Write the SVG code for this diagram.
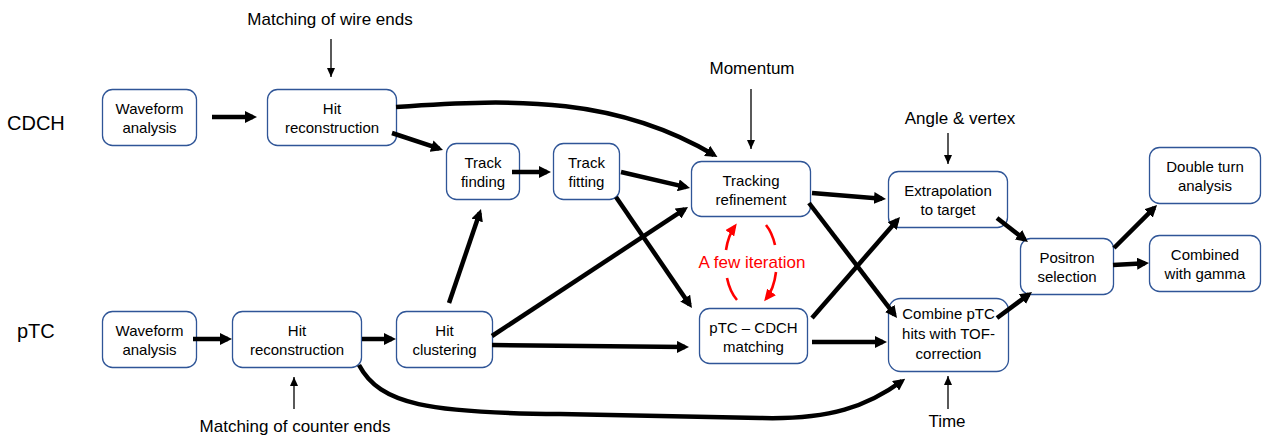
<svg xmlns="http://www.w3.org/2000/svg" width="1262" height="438" viewBox="0 0 1262 438">
<style>
.box{fill:#fff;stroke:#2F5597;stroke-width:1.3}
.nt{font-family:"Liberation Sans",Arial,sans-serif;font-size:15px;fill:#000;text-anchor:middle}
.lbl{font-family:"Liberation Sans",Arial,sans-serif;font-size:17px;fill:#000;text-anchor:middle}
.side{font-family:"Liberation Sans",Arial,sans-serif;font-size:20px;fill:#000}
.thick{fill:none;stroke:#000;stroke-width:4.5;marker-end:url(#ah)}
.thin{fill:none;stroke:#000;stroke-width:1.3;marker-end:url(#ahs)}
.red{fill:none;stroke:#FF0000;stroke-width:2.6}
.redtxt{font-family:"Liberation Sans",Arial,sans-serif;font-size:17px;fill:#FF0000;text-anchor:middle}
</style>
<defs>
<marker id="ah" markerUnits="userSpaceOnUse" markerWidth="12" markerHeight="12" refX="8" refY="6" orient="auto"><path d="M0,0 L12,6 L0,12 z" fill="#000"/></marker>
<marker id="ahs" markerUnits="userSpaceOnUse" markerWidth="9" markerHeight="8" refX="9" refY="4" orient="auto"><path d="M0,0 L9,4 L0,8 z" fill="#000"/></marker>
<marker id="ahr" markerUnits="userSpaceOnUse" markerWidth="12" markerHeight="11" refX="9" refY="5.5" orient="auto"><path d="M0,0 L12,5.5 L0,11 z" fill="#FF0000"/></marker>
</defs>
<rect width="1262" height="438" fill="#fff"/>

<g id="labels">
<text class="side" x="7" y="130">CDCH</text>
<text class="side" x="17" y="338">pTC</text>
<text class="lbl" x="330" y="25">Matching of wire ends</text>
<text class="lbl" x="752" y="74">Momentum</text>
<text class="lbl" x="960" y="124">Angle &amp; vertex</text>
<text class="lbl" x="295" y="432">Matching of counter ends</text>
<text class="lbl" x="947" y="427">Time</text>
</g>

<g id="n_cdch_wave"><rect class="box" x="102.5" y="89.5" width="94" height="56" rx="10"/><text class="nt" x="149.5" y="114">Waveform</text><text class="nt" x="149.5" y="133">analysis</text></g>
<g id="n_cdch_hit"><rect class="box" x="267.5" y="89.5" width="129" height="56" rx="10"/><text class="nt" x="332" y="114">Hit</text><text class="nt" x="332" y="133">reconstruction</text></g>
<g id="n_track_finding"><rect class="box" x="446.5" y="143.5" width="73" height="56" rx="10"/><text class="nt" x="483" y="168">Track</text><text class="nt" x="483" y="187">finding</text></g>
<g id="n_track_fitting"><rect class="box" x="553.5" y="143.5" width="66" height="56" rx="10"/><text class="nt" x="586.5" y="168">Track</text><text class="nt" x="586.5" y="187">fitting</text></g>
<g id="n_tracking_refinement"><rect class="box" x="691.5" y="161.5" width="119" height="55" rx="10"/><text class="nt" x="751" y="186">Tracking</text><text class="nt" x="751" y="205">refinement</text></g>
<g id="n_extrapolation"><rect class="box" x="888.5" y="171.5" width="119" height="56" rx="10"/><text class="nt" x="948" y="196">Extrapolation</text><text class="nt" x="948" y="215">to target</text></g>
<g id="n_positron"><rect class="box" x="1020.5" y="238.5" width="93" height="56" rx="10"/><text class="nt" x="1067" y="263">Positron</text><text class="nt" x="1067" y="282">selection</text></g>
<g id="n_double_turn"><rect class="box" x="1149.5" y="147.5" width="111" height="56" rx="10"/><text class="nt" x="1205" y="172">Double turn</text><text class="nt" x="1205" y="191">analysis</text></g>
<g id="n_combined_gamma"><rect class="box" x="1149.5" y="235.5" width="111" height="56" rx="10"/><text class="nt" x="1205" y="260">Combined</text><text class="nt" x="1205" y="279">with gamma</text></g>
<g id="n_ptc_wave"><rect class="box" x="102.5" y="311.5" width="94" height="56" rx="10"/><text class="nt" x="149.5" y="336">Waveform</text><text class="nt" x="149.5" y="355">analysis</text></g>
<g id="n_ptc_hit"><rect class="box" x="232.5" y="311.5" width="129" height="56" rx="10"/><text class="nt" x="297" y="336">Hit</text><text class="nt" x="297" y="355">reconstruction</text></g>
<g id="n_hit_clustering"><rect class="box" x="396.5" y="311.5" width="96" height="56" rx="10"/><text class="nt" x="444.5" y="336">Hit</text><text class="nt" x="444.5" y="355">clustering</text></g>
<g id="n_ptc_cdch"><rect class="box" x="699.5" y="308.5" width="108" height="55" rx="10"/><text class="nt" x="753.5" y="333">pTC – CDCH</text><text class="nt" x="753.5" y="352">matching</text></g>
<g id="n_combine"><rect class="box" x="888.5" y="298.5" width="120" height="73" rx="12"/><text class="nt" x="948.5" y="319">Combine pTC</text><text class="nt" x="948.5" y="339">hits with TOF-</text><text class="nt" x="948.5" y="359">correction</text></g>

<g id="connectors">
<path class="thick" d="M212,117 L253,117"/>
<path class="thick" d="M392,133 L439.2,148.7"/>
<path class="thick" d="M396,107 C520,98 618,98 714,155"/>
<path class="thick" d="M512,172 L547,172"/>
<path class="thick" d="M621,172 L686.1,187.1"/>
<path class="thick" d="M616,197 L689.7,304.7"/>
<path class="thick" d="M449,303 L479.7,212.8"/>
<path class="thick" d="M492,336 L684.7,209.2"/>
<path class="thick" d="M492,345 L685,347"/>
<path class="thick" d="M193,339 L228,339"/>
<path class="thick" d="M362,339 L392,339"/>
<path class="thick" d="M359,365 C380,405 430,413 560,414 L760,418 C830,420 868,406 902,381"/>
<path class="thick" d="M812,193 L882,198.7"/>
<path class="thick" d="M809,203 L894.6,314.8"/>
<path class="thick" d="M812,318 L897.4,220"/>
<path class="thick" d="M812,342 L883,342"/>
<path class="thick" d="M997,218 L1024.8,239.6"/>
<path class="thick" d="M997,318 L1028.8,294.4"/>
<path class="thick" d="M1114,248 L1154.2,207.8"/>
<path class="thick" d="M1113,265 L1145,263.2"/>
<path class="thin" d="M331,39 L331,77"/>
<path class="thin" d="M751,89 L751,149"/>
<path class="thin" d="M948,133 L948,164"/>
<path class="thin" d="M294,409 L294,377"/>
<path class="thin" d="M948,409 L948,376"/>
<path class="red" d="M737,300 A26,45 0 0 1 727,278"/>
<path class="red" d="M726,250 A26,45 0 0 1 735,226" marker-end="url(#ahr)"/>
<path class="red" d="M766,225 A26,45 0 0 1 775,245"/>
<path class="red" d="M776,272 A26,45 0 0 1 766,299" marker-end="url(#ahr)"/>
</g>
<text class="redtxt" x="752" y="268">A few iteration</text>
</svg>
